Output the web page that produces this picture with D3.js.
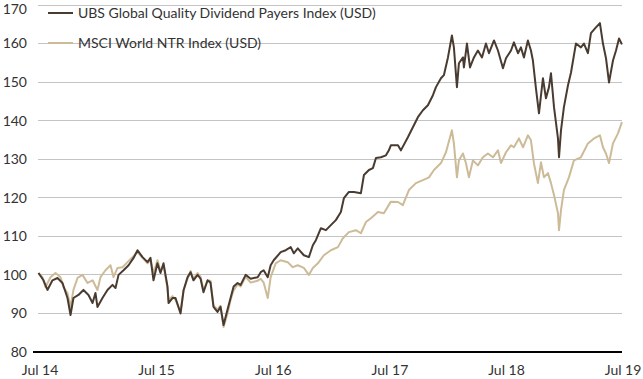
<!DOCTYPE html>
<html><head><meta charset="utf-8">
<script src="https://cdn.jsdelivr.net/npm/d3@7"></script>
<style>html,body{margin:0;padding:0;background:#fff;}svg{display:block;font-family:Lato,"Open Sans",sans-serif;}</style>
</head><body><svg id="c" width="643" height="379"></svg>
<script>
const seriesNames = ["UBS Global Quality Dividend Payers Index (USD)", "MSCI World NTR Index (USD)"];
const seriesColors = ["#4a3b30", "#cdbb98"];
const yTicks = [80, 90, 100, 110, 120, 130, 140, 150, 160, 170];
const xTickYears = [2014, 2015, 2016, 2017, 2018, 2019];
const xTickLabels = ["Jul 14", "Jul 15", "Jul 16", "Jul 17", "Jul 18", "Jul 19"];

// decimal-year time stamps and index values
const ubsTime = [2014.500,2014.543,2014.577,2014.620,2014.663,2014.706,2014.749,2014.775,2014.800,2014.843,2014.886,2014.929,2014.964,2014.989,2015.006,2015.049,2015.092,2015.135,2015.161,2015.187,2015.230,2015.273,2015.316,2015.350,2015.393,2015.436,2015.461,2015.487,2015.521,2015.547,2015.573,2015.607,2015.616,2015.650,2015.676,2015.719,2015.745,2015.779,2015.805,2015.830,2015.865,2015.891,2015.916,2015.951,2015.976,2016.002,2016.036,2016.062,2016.088,2016.122,2016.148,2016.174,2016.208,2016.234,2016.277,2016.320,2016.380,2016.406,2016.431,2016.466,2016.491,2016.517,2016.577,2016.620,2016.663,2016.689,2016.723,2016.775,2016.818,2016.852,2016.878,2016.921,2016.964,2017.006,2017.049,2017.092,2017.118,2017.161,2017.204,2017.264,2017.290,2017.333,2017.367,2017.393,2017.436,2017.479,2017.504,2017.521,2017.582,2017.607,2017.667,2017.710,2017.753,2017.796,2017.839,2017.882,2017.908,2017.951,2017.976,2018.011,2018.045,2018.062,2018.088,2018.105,2018.140,2018.148,2018.174,2018.200,2018.234,2018.268,2018.303,2018.337,2018.363,2018.406,2018.440,2018.483,2018.509,2018.552,2018.577,2018.612,2018.637,2018.663,2018.697,2018.723,2018.740,2018.766,2018.792,2018.826,2018.852,2018.878,2018.895,2018.921,2018.955,2018.964,2018.981,2019.006,2019.041,2019.067,2019.109,2019.152,2019.178,2019.212,2019.238,2019.281,2019.315,2019.341,2019.367,2019.393,2019.427,2019.453,2019.479,2019.504];
const ubsValues = [100.5,98.6,96.1,98.6,99.2,97.9,94,89.6,94,94.8,96.1,94.8,92.7,95.3,91.7,94,96.1,97.4,96.6,100,101.2,102.5,104.4,106.4,104.6,103.3,104.4,98.6,103,100.5,103,97,92.7,94,94,90,96,99.4,100.7,98.6,100,99,95.5,98.6,98,91.7,90.4,91.7,87,91,94,97,97.9,97.4,100,99,99.4,100.7,101.2,99.4,102.5,103.8,105.9,106.4,107.2,105.6,106.9,105.1,104.6,107.7,109,112.1,111.6,112.9,114.2,116.3,119.9,121.5,121.5,121.2,125.9,127.2,127.7,130.3,130.5,131,132.3,133.6,133.6,132.3,135.7,138.3,140.9,142.7,144,146.6,148.7,151,151.8,156.4,162.1,159,148.7,154.9,156.4,153.8,160,153.8,156.4,158.2,156.4,160,157.5,160.8,158.2,153.6,156.2,158.2,160.3,157.5,159,156.4,160.8,158.2,155.6,148.4,141.9,151,145.8,148.7,152.3,143.5,135.4,130.5,137.5,143.5,149.2,152.5,160,159,160,157.5,162.7,164.2,165.3,160,156.2,149.9,155.6,158.2,161.3,159.8];

const msciTime = [2014.500,2014.534,2014.560,2014.603,2014.646,2014.689,2014.715,2014.749,2014.775,2014.800,2014.835,2014.878,2014.921,2014.964,2015.006,2015.032,2015.075,2015.118,2015.144,2015.178,2015.221,2015.264,2015.307,2015.350,2015.393,2015.436,2015.461,2015.487,2015.521,2015.547,2015.573,2015.607,2015.616,2015.650,2015.676,2015.719,2015.745,2015.779,2015.805,2015.830,2015.865,2015.891,2015.916,2015.951,2015.976,2016.002,2016.036,2016.062,2016.088,2016.122,2016.148,2016.174,2016.208,2016.234,2016.277,2016.320,2016.380,2016.406,2016.431,2016.466,2016.491,2016.534,2016.577,2016.637,2016.680,2016.723,2016.775,2016.818,2016.852,2016.895,2016.946,2017.006,2017.067,2017.109,2017.161,2017.221,2017.264,2017.307,2017.350,2017.410,2017.461,2017.521,2017.582,2017.624,2017.676,2017.736,2017.796,2017.848,2017.891,2017.951,2017.994,2018.045,2018.062,2018.088,2018.105,2018.140,2018.165,2018.191,2018.225,2018.268,2018.311,2018.354,2018.397,2018.440,2018.466,2018.509,2018.552,2018.577,2018.620,2018.655,2018.697,2018.723,2018.749,2018.783,2018.809,2018.835,2018.869,2018.895,2018.921,2018.955,2018.964,2018.981,2019.006,2019.049,2019.092,2019.152,2019.212,2019.264,2019.315,2019.341,2019.367,2019.393,2019.427,2019.470,2019.504];
const msciValues = [100.5,99.4,96.8,99.4,100.5,99.4,96.8,95.3,91.7,96.1,99.2,100,97.9,98.6,96.1,99.4,101.2,102.5,99.4,101.8,102,103.3,104.6,105.9,104.4,103,104,100.5,103.8,101,102.5,96.5,93.5,94.5,93.5,90.5,96,99,101,99,100.5,99.5,96,98.5,98.5,92,91,92,86.5,90,93.5,96,97.5,97,99.5,98,98.5,99,98,94,99.4,103,103.8,103.3,102,102.5,101.8,100,101.8,103,105.1,106.4,107.2,109.5,111.1,111.6,110.8,113.7,114.7,116.3,116,119,118.9,118.1,122,123.8,124.6,125.3,127.2,129,131.8,137.5,134.1,125.3,129.7,131.5,129,125.3,129.7,128.4,130.5,131.5,130.5,132.3,129,131.8,133.6,133.1,135.4,133.1,136.2,134.9,128.9,123.8,129.2,125.3,126.4,123.8,120.7,116,111.6,116.8,122,125.3,129.7,130.5,134.1,135.4,136.2,133.1,131.5,129,134.1,136.7,139.6];

function yearToDate(t) {
  const y = Math.floor(t);
  const start = Date.UTC(y, 0, 1), end = Date.UTC(y + 1, 0, 1);
  return new Date(start + (t - y) * (end - start));
}

const svg = d3.select("#c");
const x = d3.scaleUtc().domain([new Date(Date.UTC(2014, 6, 1)), new Date(Date.UTC(2019, 6, 1))]).range([38, 621]);
const y = d3.scaleLinear().domain([80, 170]).range([352, 5]);

svg.append("g").selectAll("line").data(yTicks.filter(v => v > 80)).join("line")
  .attr("x1", 38).attr("x2", 622).attr("y1", d => y(d)).attr("y2", d => y(d))
  .attr("stroke", "#c4c4c4").attr("stroke-width", 1).attr("shape-rendering", "crispEdges");

svg.append("g").selectAll("text").data(yTicks).join("text")
  .attr("x", 27).attr("y", d => Math.max(y(d), 9)).attr("dy", "0.35em").attr("text-anchor", "end")
  .attr("font-size", 14).attr("fill", "#333").text(d => d);

svg.append("g").selectAll("text").data(xTickYears).join("text")
  .attr("x", d => x(new Date(Date.UTC(d, 6, 1))) + 2).attr("y", 370).attr("dy", "0.35em").attr("text-anchor", "middle")
  .attr("font-size", 14).attr("fill", "#333").text((d, i) => xTickLabels[i]);

const line = d3.line().x(d => x(d[0])).y(d => y(d[1]));
const msciData = msciTime.map((t, i) => [yearToDate(t), msciValues[i]]);
const ubsData = ubsTime.map((t, i) => [yearToDate(t), ubsValues[i]]);

svg.append("path").datum(msciData).attr("d", line).attr("fill", "none")
  .attr("stroke", seriesColors[1]).attr("stroke-width", 2).attr("stroke-linejoin", "round");
svg.append("path").datum(ubsData).attr("d", line).attr("fill", "none")
  .attr("stroke", seriesColors[0]).attr("stroke-width", 2).attr("stroke-linejoin", "round");

svg.append("line").attr("x1", 33).attr("x2", 622).attr("y1", y(80)).attr("y2", y(80))
  .attr("stroke", "#000").attr("stroke-width", 2);

const leg = svg.append("g").selectAll("g").data(seriesNames).join("g")
  .attr("transform", (d, i) => `translate(48,${13 + i * 30})`);
leg.append("line").attr("x1", 0).attr("x2", 25).attr("stroke", (d, i) => seriesColors[i]).attr("stroke-width", 2);
leg.append("text").attr("x", 30).attr("dy", "0.35em").attr("font-size", 14).attr("fill", "#333").text(d => d);
</script></body></html>
